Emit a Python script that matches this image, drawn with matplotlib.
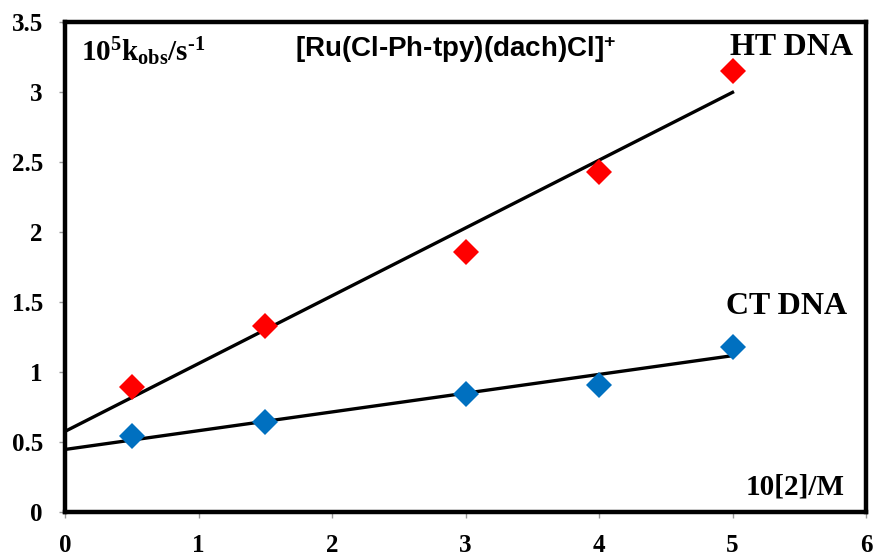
import numpy as np
import matplotlib
matplotlib.use("Agg")
import matplotlib.pyplot as plt

plt.rcParams['mathtext.fontset'] = 'custom'
plt.rcParams['mathtext.rm'] = 'Liberation Serif:bold'
plt.rcParams['mathtext.it'] = 'Liberation Serif:bold'
plt.rcParams['mathtext.bf'] = 'Liberation Serif:bold'
plt.rcParams['mathtext.sf'] = 'Liberation Sans:bold'
plt.rcParams['mathtext.default'] = 'rm'

# 10[2]/M against 10^5 k_obs for the two DNA samples
conc = [0.5, 1.5, 3.0, 4.0, 5.0]
k_ht = [0.89, 1.33, 1.86, 2.43, 3.15]
k_ct = [0.54, 0.64, 0.84, 0.91, 1.18]

x_ticks = [0, 1, 2, 3, 4, 5, 6]
y_ticks = [0, 0.5, 1, 1.5, 2, 2.5, 3, 3.5]

fig = plt.figure(figsize=(8.76, 5.56), dpi=100)
ax = fig.add_axes([0.0742, 0.0791, 0.9144, 0.8813])

# linear fits drawn from 0 to the last concentration
xfit = np.array([0.0, conc[-1]])
for k in (k_ht, k_ct):
    m, b = np.polyfit(conc, k, 1)
    ax.plot(xfit, m * xfit + b, color='black', lw=2.4, zorder=2)

ax.plot(conc, k_ht, 'D', color='#FF0000', ms=13, mew=0, zorder=3)
ax.plot(conc, k_ct, 'D', color='#0070C0', ms=13, mew=0, zorder=3)

ax.set_xlim(0, 6)
ax.set_ylim(0, 3.5)
ax.set_xticks(x_ticks)
ax.set_yticks(y_ticks)
ax.set_xticklabels([str(v) for v in x_ticks])
ax.set_yticklabels(['0', '0.5', '1', '1.5', '2', '2.5', '3', '3.5'])

for s in ax.spines.values():
    s.set_linewidth(3.2)
    s.set_color('black')

ax.tick_params(axis='both', direction='out', length=4, width=1, color='#999999',
               labelsize=18)
ax.tick_params(axis='x', pad=12)
ax.tick_params(axis='y', pad=12)
for lab in ax.get_xticklabels() + ax.get_yticklabels():
    lab.set_fontfamily('Liberation Serif')
    lab.set_fontweight('bold')

serif = dict(family='Liberation Serif', weight='bold', color='black')
ax.text(0.12, 3.29, r'$10^5k_{obs}/s^{\text{-}1}$', fontsize=21, va='center', ha='left')
ax.text(1.72, 3.3, '[Ru(Cl-Ph-tpy)(dach)Cl]$^{\\mathsf{+}}$', fontsize=20,
        family='Liberation Sans', weight='bold', va='center', ha='left')
ax.text(5.9, 3.32, 'HT DNA', fontsize=23, ha='right', va='center', **serif)
ax.text(5.86, 1.47, 'CT DNA', fontsize=23, ha='right', va='center', **serif)
ax.text(5.84, 0.18, '10[2]/M', fontsize=21, ha='right', va='center', **serif)

fig.savefig('out.png', dpi=100)
